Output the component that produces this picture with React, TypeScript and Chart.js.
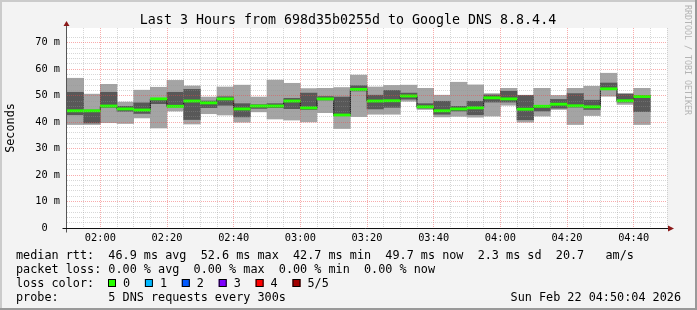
import React, { useEffect, useRef } from 'react';
import { Chart, registerables } from 'chart.js';

Chart.register(...registerables);

// ---- data (milliseconds) ----
const slotStarts = [
  '01:50', '01:55', '02:00', '02:05', '02:10', '02:15', '02:20', '02:25', '02:30', '02:35',
  '02:40', '02:45', '02:50', '02:55', '03:00', '03:05', '03:10', '03:15', '03:20', '03:25',
  '03:30', '03:35', '03:40', '03:45', '03:50', '03:55', '04:00', '04:05', '04:10', '04:15',
  '04:20', '04:25', '04:30', '04:35', '04:40',
];
const pingMin = [
  39.1, 39.1, 39.8, 39.5, 41.6, 37.8, 44.2, 39.3, 43.2, 42.7,
  40.0, 43.9, 41.2, 40.8, 40.1, 43.6, 37.6, 42.1, 43.0, 43.0,
  47.9, 44.8, 42.0, 42.2, 41.9, 42.3, 46.4, 40.0, 42.3, 44.8,
  39.1, 42.5, 49.8, 46.7, 39.1,
];
const pingLow = [
  42.8, 39.7, 45.6, 44.1, 43.3, 47.0, 45.8, 41.0, 45.5, 46.4,
  42.0, 45.2, 45.5, 45.1, 44.8, 48.4, 42.5, 51.8, 45.0, 45.6,
  48.7, 45.3, 43.0, 44.2, 42.8, 47.6, 47.6, 40.9, 44.2, 45.3,
  45.7, 44.8, 52.3, 47.6, 44.0,
];
const pingMedian = [
  44.3, 44.3, 46.1, 45.0, 44.6, 48.8, 46.0, 48.0, 47.3, 48.8,
  45.0, 46.1, 46.1, 48.0, 45.4, 48.8, 42.7, 52.4, 48.0, 48.1,
  49.9, 45.8, 44.3, 45.0, 45.4, 49.2, 48.8, 44.9, 46.0, 46.8,
  46.2, 45.8, 52.6, 48.1, 49.7,
];
const pingHigh = [
  51.3, 44.6, 51.3, 46.0, 47.3, 49.0, 51.3, 52.4, 48.0, 49.6,
  47.0, 46.6, 47.0, 49.0, 51.0, 49.7, 49.5, 53.8, 50.2, 52.0,
  51.0, 47.0, 47.9, 46.0, 47.9, 50.3, 51.7, 50.1, 46.3, 48.6,
  50.8, 48.3, 54.8, 50.6, 50.1,
];
const pingMax = [
  56.6, 50.6, 54.3, 47.6, 52.1, 53.2, 55.8, 53.7, 49.5, 53.3,
  54.0, 49.5, 55.9, 54.7, 52.7, 52.8, 53.1, 57.8, 53.3, 53.9,
  54.0, 52.8, 50.2, 55.1, 54.1, 50.8, 52.8, 50.2, 52.8, 50.1,
  52.8, 53.6, 58.5, 50.8, 52.8,
];

const axisStart = '01:50';
const axisEnd = '04:50';
const slotMinutes = 5;
const labelEveryMinutes = 20;
const yMax = 75.6;

const titleText = 'Last 3 Hours from 698d35b0255d to Google DNS 8.8.4.4';
const axisTitle = 'Seconds';
const watermark = 'RRDTOOL / TOBI OETIKER';
const legendLine1 = 'median rtt:  46.9 ms avg  52.6 ms max  42.7 ms min  49.7 ms now  2.3 ms sd  20.7   am/s';
const legendLine2 = 'packet loss: 0.00 % avg  0.00 % max  0.00 % min  0.00 % now';
const legendLine3 = 'loss color:';
const legendLine4 = 'probe:       5 DNS requests every 300s';
const stampText = 'Sun Feb 22 04:50:04 2026';
const lossLabels = ['0', '1', '2', '3', '4', '5/5'];
const lossColors = ['#26ff00', '#00b8ff', '#0059ff', '#7e00ff', '#ff0000', '#a00000'];

const MONO = "'DejaVu Sans Mono', monospace";

const toMin = (s: string) => {
  const [h, m] = s.split(':').map(Number);
  return h * 60 + m;
};
const fmt = (v: number) =>
  `${String(Math.floor(v / 60)).padStart(2, '0')}:${String(v % 60).padStart(2, '0')}`;

const rrdPlugin = {
  id: 'rrdDecor',
  beforeDraw(chart: any) {
    const { ctx, width, height, chartArea: a } = chart;
    ctx.save();
    ctx.fillStyle = '#f3f3f3';
    ctx.fillRect(0, 0, width, height);
    ctx.fillStyle = '#ffffff';
    ctx.fillRect(a.left, a.top, a.right - a.left, a.bottom - a.top);
    ctx.restore();
  },
  afterDraw(chart: any) {
    const { ctx, width, height, chartArea: a } = chart;
    ctx.save();
    // frame
    ctx.fillStyle = '#cbcbcb';
    ctx.fillRect(0, 0, width, 2);
    ctx.fillRect(0, 0, 2, height);
    ctx.fillStyle = '#999999';
    ctx.fillRect(0, height - 2, width, 2);
    ctx.fillRect(width - 2, 0, 2, height);

    // axes
    const ax = Math.round(a.left) - 0.5;
    const ay = Math.round(a.bottom) + 0.5;
    ctx.lineWidth = 1;
    ctx.strokeStyle = '#555555';
    ctx.beginPath();
    ctx.moveTo(ax, ay + 4);
    ctx.lineTo(ax, a.top - 2);
    ctx.stroke();
    ctx.strokeStyle = '#111111';
    ctx.beginPath();
    ctx.moveTo(ax - 4, ay);
    ctx.lineTo(a.right + 2, ay);
    ctx.stroke();
    ctx.fillStyle = '#8b1a1a';
    ctx.beginPath();
    ctx.moveTo(ax - 3, a.top - 2);
    ctx.lineTo(ax + 3, a.top - 2);
    ctx.lineTo(ax, a.top - 7);
    ctx.closePath();
    ctx.fill();
    ctx.beginPath();
    ctx.moveTo(a.right + 1, ay - 3);
    ctx.lineTo(a.right + 1, ay + 3);
    ctx.lineTo(a.right + 7, ay);
    ctx.closePath();
    ctx.fill();

    // title
    ctx.fillStyle = '#000000';
    ctx.font = `13.3px ${MONO}`;
    ctx.textAlign = 'center';
    ctx.textBaseline = 'alphabetic';
    ctx.fillText(titleText, width / 2 - 0.5, 24);

    // y axis title
    ctx.save();
    ctx.font = `11.8px ${MONO}`;
    ctx.translate(11, (a.top + a.bottom) / 2);
    ctx.rotate(-Math.PI / 2);
    ctx.textAlign = 'center';
    ctx.textBaseline = 'middle';
    ctx.fillText(axisTitle, 0, 0);
    ctx.restore();

    // watermark
    ctx.save();
    ctx.font = `8.3px ${MONO}`;
    ctx.fillStyle = '#b4b4b4';
    ctx.translate(687, 5);
    ctx.rotate(Math.PI / 2);
    ctx.textAlign = 'left';
    ctx.textBaseline = 'middle';
    ctx.fillText(watermark, 0, 0);
    ctx.restore();

    // legend
    ctx.font = `11.8px ${MONO}`;
    ctx.fillStyle = '#000000';
    ctx.textAlign = 'left';
    ctx.textBaseline = 'alphabetic';
    ctx.fillText(legendLine1, 16, 258.5);
    ctx.fillText(legendLine2, 16, 272.5);
    ctx.fillText(legendLine3, 16, 286.5);
    ctx.fillText(legendLine4, 16, 300.5);
    lossLabels.forEach((lab, i) => {
      const bx = 108 + i * 36.9;
      ctx.fillStyle = lossColors[i];
      ctx.fillRect(bx, 279, 8, 8);
      ctx.strokeStyle = '#000000';
      ctx.strokeRect(bx + 0.5, 279.5, 7, 7);
      ctx.fillStyle = '#000000';
      ctx.fillText(lab, bx + 15, 286.5);
    });
    ctx.textAlign = 'right';
    ctx.fillText(stampText, 681, 300.5);
    ctx.restore();
  },
};

export default function App() {
  const ref = useRef<HTMLCanvasElement>(null);

  useEffect(() => {
    document.body.style.margin = '0';
    const canvas = ref.current;
    if (!canvas) return;

    const centers = slotStarts.map((s) => toMin(s) + slotMinutes / 2);
    const band = (lo: number[], hi: number[]) => centers.map((x, i) => ({ x, y: [lo[i], hi[i]] }));
    const medHalf = 0.42;
    const medianBand = centers.map((x, i) => ({ x, y: [pingMedian[i] - medHalf, pingMedian[i] + medHalf] }));
    const medianPts = centers.map((x, i) => ({ x, y: pingMedian[i] }));

    const barCommon = {
      type: 'bar' as const,
      grouped: false,
      barPercentage: 1,
      categoryPercentage: 1,
      borderWidth: 0,
    };

    const tickFont = { family: MONO, size: 10.3 };
    const minorGrid = 'rgba(150,150,150,0.38)';
    const majorGrid = 'rgba(240,70,70,0.45)';

    const chart = new Chart(canvas, {
      type: 'bar',
      data: {
        datasets: [
          { ...barCommon, label: 'median', data: medianBand as any, backgroundColor: lossColors[0], order: 0 },
          {
            type: 'line',
            label: 'median step',
            data: medianPts as any,
            borderColor: '#1a1a1a',
            borderWidth: 1,
            stepped: 'middle',
            pointRadius: 0,
            fill: false,
            order: 1,
          } as any,
          { ...barCommon, label: 'inner', data: band(pingLow, pingHigh) as any, backgroundColor: '#585858', order: 2 },
          { ...barCommon, label: 'outer', data: band(pingMin, pingMax) as any, backgroundColor: '#a4a4a4', order: 3 },
        ],
      },
      options: {
        responsive: false,
        animation: false,
        devicePixelRatio: 1,
        layout: { padding: { left: 0, top: 28, right: 30, bottom: 0 } },
        plugins: {
          legend: { display: false },
          title: { display: false },
          tooltip: { enabled: false },
        },
        scales: {
          x: {
            type: 'linear',
            min: toMin(axisStart),
            max: toMin(axisEnd),
            offset: false,
            grid: {
              offset: false,
              drawTicks: false,
              z: 1,
              lineWidth: 1,
              color: (c: any) => {
                const v = c.tick ? c.tick.value : 0;
                if (v === toMin(axisStart)) return 'rgba(0,0,0,0)';
                return v % labelEveryMinutes === 0 ? majorGrid : minorGrid;
              },
            },
            border: { display: false, dash: [1, 1] },
            ticks: {
              stepSize: slotMinutes,
              autoSkip: false,
              maxRotation: 0,
              padding: 4,
              color: '#000000',
              font: tickFont,
              callback: (v: any) => (Number(v) % labelEveryMinutes === 0 ? fmt(Number(v)) : ''),
            },
            afterFit: (s: any) => {
              s.height = 82;
            },
          },
          y: {
            type: 'linear',
            min: 0,
            max: yMax,
            grid: {
              drawTicks: false,
              z: 1,
              lineWidth: 1,
              color: (c: any) => {
                const v = c.tick ? c.tick.value : 0;
                if (v === 0) return 'rgba(0,0,0,0)';
                if (Math.abs(v % 10) < 1e-6) return majorGrid;
                if (Math.abs(v % 2) < 1e-6) return minorGrid;
                return 'rgba(0,0,0,0)';
              },
            },
            border: { display: false, dash: [1, 1] },
            ticks: {
              stepSize: 2,
              autoSkip: false,
              padding: 7,
              color: '#000000',
              font: tickFont,
              callback: (v: any) => {
                const n = Number(v);
                if (n === 0) return '0  ';
                if (Math.abs(n % 10) < 1e-6) return `${n} m`;
                return '';
              },
            },
            afterFit: (s: any) => {
              s.width = 67;
            },
          },
        },
      } as any,
      plugins: [rrdPlugin],
    });

    return () => chart.destroy();
  }, []);

  return (
    <div style={{ width: 697, height: 310 }}>
      <canvas ref={ref} width={697} height={310} style={{ display: 'block', width: 697, height: 310 }} />
    </div>
  );
}
